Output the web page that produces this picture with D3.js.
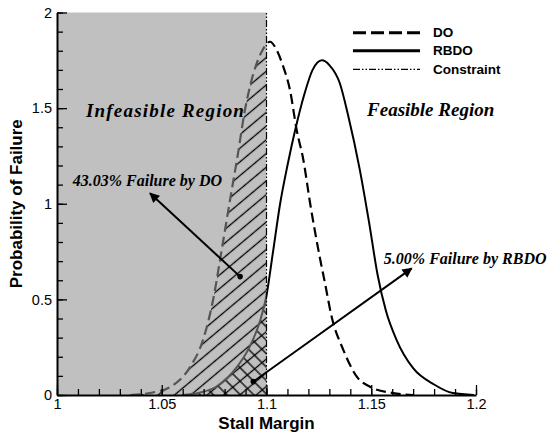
<!DOCTYPE html>
<meta charset="utf-8">
<style>

  body { margin: 0; background-color: #fff; }
  svg { display: block; }
  .tick text { font-family: Arial, "Liberation Sans", sans-serif; font-size: 14.5px; fill: #000; }
  .note { font-family: "Times New Roman", "Liberation Serif", serif; font-weight: bold; font-style: italic; fill: #000; }
  .lab { font-family: Arial, "Liberation Sans", sans-serif; font-weight: bold; fill: #000; }

</style>
<body>
<svg width="547" height="437"></svg>
<script src="https://d3js.org/d3.v7.min.js"></script>
<script>

// probability curves
var doX = [1.035, 1.045, 1.054, 1.0635, 1.0697, 1.0745, 1.0786, 1.0826, 1.0865, 1.0897, 1.0925, 1.0977, 1.1017, 1.105, 1.108, 1.1112, 1.1144, 1.1176, 1.1208, 1.1255, 1.1279, 1.1311, 1.1367, 1.1431, 1.1494, 1.1604, 1.170];
var doY = [0, 0.012, 0.042, 0.146, 0.288, 0.497, 0.758, 1.02, 1.27, 1.49, 1.63, 1.795, 1.847, 1.80, 1.717, 1.595, 1.386, 1.229, 1.004, 0.716, 0.586, 0.409, 0.235, 0.096, 0.043, 0.010, 0];

var rbdoX = [1.060, 1.068, 1.076, 1.086, 1.092, 1.097, 1.100, 1.103, 1.1065, 1.110, 1.114, 1.118, 1.122, 1.1265, 1.130, 1.135, 1.139, 1.1445, 1.149, 1.153, 1.157, 1.162, 1.170, 1.180, 1.189, 1.199];
var rbdoY = [0, 0.012, 0.043, 0.148, 0.253, 0.39, 0.52, 0.74, 1.00, 1.20, 1.40, 1.57, 1.70, 1.75, 1.725, 1.63, 1.46, 1.18, 0.90, 0.63, 0.44, 0.29, 0.14, 0.055, 0.01, 0];

var constraint = 1.1;
var xTicks = [1, 1.05, 1.1, 1.15, 1.2];
var yTicks = [0, 0.5, 1, 1.5, 2];
var legendNames = ["DO", "RBDO", "Constraint"];

var svg = d3.select("svg");

var x = d3.scaleLinear().domain([1, 1.2]).range([57, 476]);
var y = d3.scaleLinear().domain([0, 2]).range([395, 12.5]);

var doData = d3.zip(doX, doY),
    rbdoData = d3.zip(rbdoX, rbdoY);

var defs = svg.append("defs");

defs.append("clipPath").attr("id", "infeasible")
  .append("rect")
    .attr("x", x(1)).attr("y", y(2))
    .attr("width", x(constraint) - x(1)).attr("height", y(0) - y(2));

defs.append("clipPath").attr("id", "feasible")
  .append("rect")
    .attr("x", x(constraint)).attr("y", 0)
    .attr("width", 547 - x(constraint)).attr("height", y(0));

function hatch(id, angle, gap) {
  defs.append("pattern")
      .attr("id", id)
      .attr("patternUnits", "userSpaceOnUse")
      .attr("width", 10).attr("height", gap)
      .attr("patternTransform", "rotate(" + angle + ")")
    .append("path")
      .attr("d", "M0," + gap / 2 + "H10")
      .attr("stroke", "#000")
      .attr("stroke-width", 1.3);
}
hatch("fwd", -40, 10.5);
hatch("back", 45, 9.5);

var marker = defs.append("marker")
    .attr("id", "head")
    .attr("viewBox", "0 0 10 10")
    .attr("refX", 9).attr("refY", 5)
    .attr("markerUnits", "userSpaceOnUse")
    .attr("markerWidth", 13).attr("markerHeight", 10)
    .attr("orient", "auto");
marker.append("path").attr("d", "M0,0L10,5L0,10z").attr("fill", "#000");

// infeasible side
svg.append("rect")
    .attr("x", x(1)).attr("y", y(2))
    .attr("width", x(constraint) - x(1)).attr("height", y(0) - y(2))
    .attr("fill", "#c0c0c0");

var area = d3.area()
    .x(d => x(d[0]))
    .y0(y(0))
    .y1(d => y(d[1]))
    .curve(d3.curveMonotoneX);

var line = d3.line()
    .x(d => x(d[0]))
    .y(d => y(d[1]))
    .curve(d3.curveMonotoneX);

svg.append("path")
    .attr("d", area(doData))
    .attr("fill", "url(#fwd)")
    .attr("clip-path", "url(#infeasible)");

svg.append("path")
    .attr("d", area(rbdoData))
    .attr("fill", "url(#back)")
    .attr("clip-path", "url(#infeasible)");

[["infeasible", "#555"], ["feasible", "#000"]].forEach(function(c) {
  svg.append("path")
      .attr("d", line(doData))
      .attr("fill", "none")
      .attr("stroke", c[1])
      .attr("stroke-width", 2.2)
      .attr("stroke-dasharray", "10,5")
      .attr("clip-path", "url(#" + c[0] + ")");
  svg.append("path")
      .attr("d", line(rbdoData))
      .attr("fill", "none")
      .attr("stroke", c[1])
      .attr("stroke-width", 2)
      .attr("clip-path", "url(#" + c[0] + ")");
});

svg.append("line")
    .attr("x1", x(constraint)).attr("x2", x(constraint))
    .attr("y1", y(0)).attr("y2", y(2))
    .attr("stroke", "#000")
    .attr("stroke-width", 1.2)
    .attr("stroke-dasharray", "7,2,1.5,2,1.5,2");

// axes
var xAxis = svg.append("g")
    .attr("transform", "translate(0," + y(0) + ")")
    .call(d3.axisBottom(x).tickValues(xTicks).tickSizeInner(-10).tickSizeOuter(0).tickPadding(4).tickFormat(d => d));
xAxis.select(".domain").attr("stroke-width", 2);

svg.append("g")
    .attr("transform", "translate(0," + y(0) + ")")
    .call(d3.axisBottom(x).tickValues(d3.range(1, 1.2001, 0.01)).tickSize(-6).tickFormat(""))
    .select(".domain").remove();

var yAxis = svg.append("g")
    .attr("transform", "translate(" + x(1) + ",0)")
    .call(d3.axisLeft(y).tickValues(yTicks).tickSizeInner(-10).tickSizeOuter(0).tickPadding(5).tickFormat(d => d));
yAxis.select(".domain").attr("stroke-width", 2);

svg.append("g")
    .attr("transform", "translate(" + x(1) + ",0)")
    .call(d3.axisLeft(y).tickValues(d3.range(0, 2.001, 0.1)).tickSize(-6).tickFormat(""))
    .select(".domain").remove();

svg.selectAll(".tick line").attr("stroke-width", 1.3);

svg.append("text")
    .attr("class", "lab")
    .attr("x", x(1.1)).attr("y", 429)
    .attr("text-anchor", "middle")
    .style("font-size", "17px")
    .text("Stall Margin");

svg.append("text")
    .attr("class", "lab")
    .attr("transform", "translate(22," + (y(0) + y(2)) / 2 + ") rotate(-90)")
    .attr("text-anchor", "middle")
    .style("font-size", "17px")
    .text("Probability of Failure");

// region labels and arrows
svg.append("text").attr("class", "note")
    .attr("x", x(1.0138)).attr("y", y(1.454))
    .style("font-size", "19px")
    .style("letter-spacing", "1.2px")
    .text("Infeasible Region");

svg.append("text").attr("class", "note")
    .attr("x", x(1.148)).attr("y", y(1.46))
    .style("font-size", "19px")
    .text("Feasible Region");

svg.append("text").attr("class", "note")
    .attr("x", x(1.0075)).attr("y", y(1.093))
    .style("font-size", "16px")
    .text("43.03% Failure by DO");

svg.append("text").attr("class", "note")
    .attr("x", x(1.156)).attr("y", y(0.685))
    .style("font-size", "16px")
    .text("5.00% Failure by RBDO");

var arrows = [
  { from: [1.0874, 0.619], to: [1.0444, 1.055] },
  { from: [1.0937, 0.070], to: [1.1693, 0.662] }
];

arrows.forEach(function(a) {
  svg.append("line")
      .attr("x1", x(a.from[0])).attr("y1", y(a.from[1]))
      .attr("x2", x(a.to[0])).attr("y2", y(a.to[1]))
      .attr("stroke", "#000")
      .attr("stroke-width", 2)
      .attr("marker-end", "url(#head)");
  svg.append("circle")
      .attr("cx", x(a.from[0])).attr("cy", y(a.from[1]))
      .attr("r", 2.8)
      .attr("fill", "#000");
});

// legend
var legend = svg.append("g").selectAll("g")
  .data(legendNames)
  .enter().append("g")
    .attr("transform", (d, i) => "translate(353," + [32.7, 50.7, 69.3][i] + ")");

legend.append("line")
    .attr("x1", 0).attr("x2", 67)
    .attr("stroke", "#000")
    .attr("stroke-width", (d, i) => i < 2 ? 3 : 1.2)
    .attr("stroke-dasharray", (d, i) => ["13,5", null, "7,2,1.5,2,1.5,2"][i]);

legend.append("text")
    .attr("class", "lab")
    .attr("x", 80).attr("y", 4.5)
    .style("font-size", "13.5px")
    .text(d => d);

</script>
